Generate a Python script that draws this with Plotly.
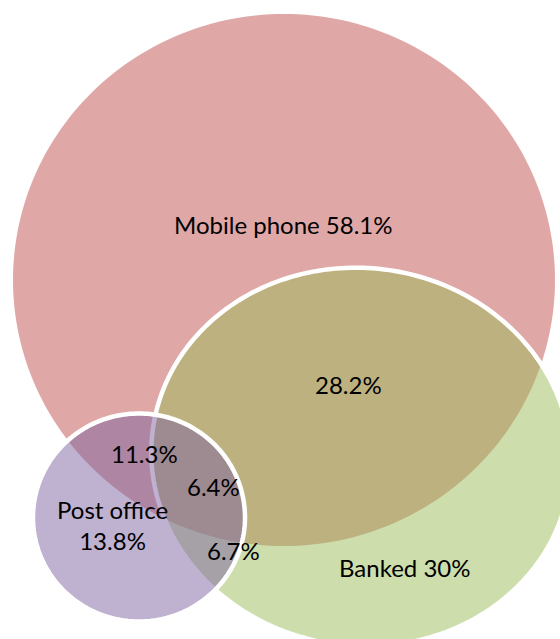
import numpy as np
import plotly.graph_objects as go

# Share of respondents using each channel (%)
set_names = ["Mobile phone", "Banked", "Post office"]
set_values = [58.1, 30, 13.8]

# Overlap shares (%)
overlap_names = ["Mobile phone & Banked", "Mobile phone & Post office",
                 "All three", "Banked & Post office"]
overlap_values = [28.2, 11.3, 6.4, 6.7]

# Fill colours (50% transparent theme colours)
set_colors = ["rgba(192,80,77,0.5)", "rgba(155,187,89,0.5)", "rgba(128,100,162,0.5)"]

# ---- layout geometry (canvas pixels, y downwards) ----
W, H = 560, 639
# centre x, centre y, semi-axis a, semi-axis b, rotation (deg), outline width
shape_geom = [
    (284, 280, 271, 266, 0, 0),
    (361, 457, 210, 189, 7, 4.5),
    (139, 517.5, 106, 104, 0, 4.5),
]
set_label_pos = [(283.5, 224), (404.5, 567), (112, 525)]
overlap_label_pos = [(348.5, 384.5), (144, 453.5), (213, 486.5), (233, 550)]
FONT = dict(family="Lato, 'Open Sans', sans-serif", size=24, color="black")


def ellipse_path(cx, cy, a, b, rot_deg, n=240):
    t = np.linspace(0, 2 * np.pi, n, endpoint=False)
    r = np.deg2rad(rot_deg)
    x = cx + a * np.cos(t) * np.cos(r) - b * np.sin(t) * np.sin(r)
    y = cy + a * np.cos(t) * np.sin(r) + b * np.sin(t) * np.cos(r)
    pts = " L ".join(f"{xi:.2f},{yi:.2f}" for xi, yi in zip(x, y))
    return f"M {pts} Z"


def pct(v):
    return f"{v:g}%"


fig = go.Figure()

for (cx, cy, a, b, rot, lw), col in zip(shape_geom, set_colors):
    fig.add_shape(
        type="path",
        path=ellipse_path(cx, cy, a, b, rot),
        xref="x", yref="y",
        fillcolor=col,
        line=dict(color="white", width=lw) if lw > 0 else dict(width=0),
        layer="above",
    )

# Set labels
for name, val, (x, y) in zip(set_names, set_values, set_label_pos):
    text = f"{name} {pct(val)}"
    if name == "Post office":
        text = f"{name}<br>{pct(val)}"
    fig.add_annotation(x=x, y=y, xref="x", yref="y", text=text,
                       showarrow=False, font=FONT, align="center")

# Overlap labels
for val, (x, y) in zip(overlap_values, overlap_label_pos):
    fig.add_annotation(x=x, y=y, xref="x", yref="y", text=pct(val),
                       showarrow=False, font=FONT)

fig.update_xaxes(range=[0, W], visible=False, showgrid=False, zeroline=False,
                 fixedrange=True)
fig.update_yaxes(range=[H, 0], visible=False, showgrid=False, zeroline=False,
                 fixedrange=True)
fig.update_layout(
    width=W, height=H,
    margin=dict(l=0, r=0, t=0, b=0),
    paper_bgcolor="white", plot_bgcolor="white",
    showlegend=False,
)

fig.write_html("out.html")
